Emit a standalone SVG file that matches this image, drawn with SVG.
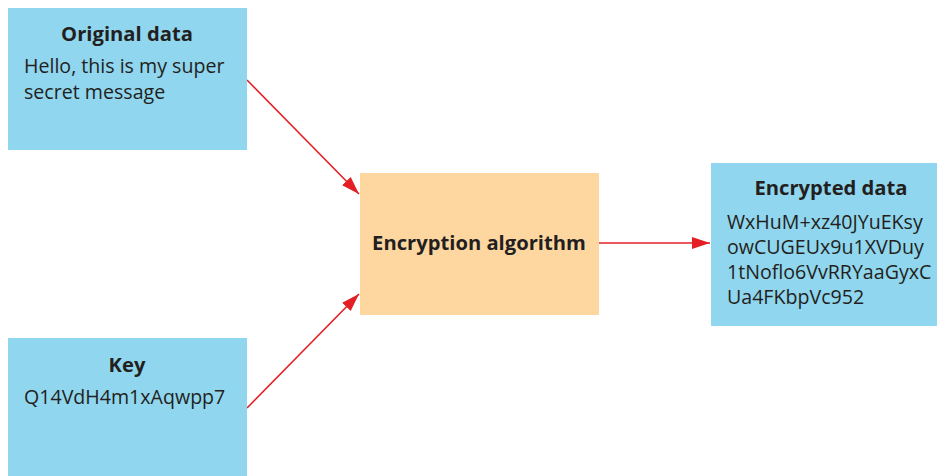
<svg xmlns="http://www.w3.org/2000/svg" width="937" height="476" viewBox="0 0 937 476">
<defs>
<style>
.blue{fill:#8fd6ee}
.orange{fill:#fdd6a0}
text{font-family:"Open Sans","Noto Sans",sans-serif;fill:#231f20;font-size:19.6px}
.t{font-weight:bold;text-anchor:middle;font-size:20.2px}
.c{stroke:#e31e24;stroke-width:1.6;fill:none}
</style>
<marker id="ah2" viewBox="0 0 18 12" refX="18" refY="6" markerWidth="18" markerHeight="12" markerUnits="userSpaceOnUse" orient="auto">
<path d="M0,0 L18,6 L0,12 Z" fill="#e31e24"/>
</marker>
</defs>
<rect width="937" height="476" fill="#ffffff"/>
<g id="connectors">
<line class="c" x1="247" y1="80" x2="359" y2="194" marker-end="url(#ah2)"/>
<line class="c" x1="247" y1="408" x2="359" y2="294" marker-end="url(#ah2)"/>
<line class="c" x1="599" y1="243" x2="710" y2="243" marker-end="url(#ah2)"/>
</g>
<g id="original">
<rect class="blue" x="8" y="8" width="239" height="142"/>
<text class="t" x="127" y="41">Original data</text>
<text x="24" y="73">Hello, this is my super</text>
<text x="24" y="99">secret message</text>
</g>
<g id="key">
<rect class="blue" x="8" y="338" width="239" height="138"/>
<text class="t" x="127" y="372">Key</text>
<text x="24" y="404">Q14VdH4m1xAqwpp7</text>
</g>
<g id="algorithm">
<rect class="orange" x="360" y="173" width="239" height="142"/>
<text class="t" x="479" y="250">Encryption algorithm</text>
</g>
<g id="encrypted">
<rect class="blue" x="711" y="163" width="226" height="163"/>
<text class="t" x="831" y="195">Encrypted data</text>
<text x="727" y="229">WxHuM+xz40JYuEKsy</text>
<text x="727" y="254">owCUGEUx9u1XVDuy</text>
<text x="727" y="279">1tNoflo6VvRRYaaGyxC</text>
<text x="727" y="304">Ua4FKbpVc952</text>
</g>
</svg>
